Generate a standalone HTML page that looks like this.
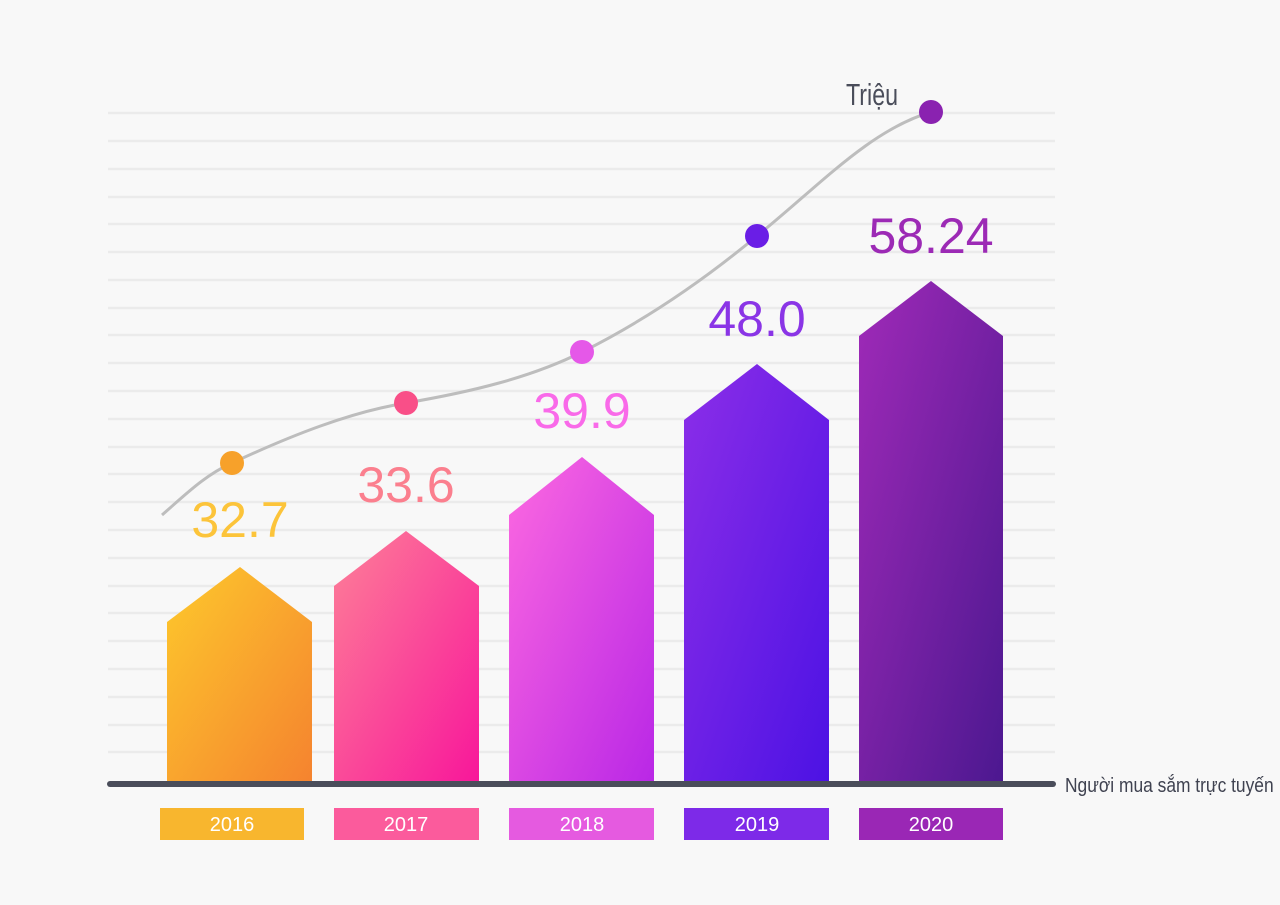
<!DOCTYPE html>
<html><head><meta charset="utf-8"><style>
html,body{margin:0;padding:0;background:#f8f8f8;}
svg{display:block}
</style></head><body>
<svg width="1280" height="905" viewBox="0 0 1280 905" xmlns="http://www.w3.org/2000/svg">
<defs>
<linearGradient id="g1" x1="0" y1="0" x2="1" y2="1"><stop offset="0" stop-color="#fdc92c"/><stop offset="1" stop-color="#f5832f"/></linearGradient>
<linearGradient id="g2" x1="0" y1="0" x2="1" y2="1"><stop offset="0" stop-color="#fd8098"/><stop offset="1" stop-color="#f8179a"/></linearGradient>
<linearGradient id="g3" x1="0" y1="0" x2="1" y2="1"><stop offset="0" stop-color="#fd69e0"/><stop offset="1" stop-color="#b927e6"/></linearGradient>
<linearGradient id="g4" x1="0" y1="0" x2="1" y2="1"><stop offset="0" stop-color="#8c2ee8"/><stop offset="1" stop-color="#4c12e4"/></linearGradient>
<linearGradient id="g5" x1="0" y1="0" x2="1" y2="1"><stop offset="0" stop-color="#a02ab8"/><stop offset="1" stop-color="#4c1890"/></linearGradient>
</defs>
<rect width="1280" height="905" fill="#f8f8f8"/>
<g stroke="#ebebeb" stroke-width="2.5">
<line x1="108" x2="1055" y1="113" y2="113"/><line x1="108" x2="1055" y1="141" y2="141"/><line x1="108" x2="1055" y1="169" y2="169"/><line x1="108" x2="1055" y1="197" y2="197"/><line x1="108" x2="1055" y1="224" y2="224"/><line x1="108" x2="1055" y1="252" y2="252"/><line x1="108" x2="1055" y1="280" y2="280"/><line x1="108" x2="1055" y1="308" y2="308"/><line x1="108" x2="1055" y1="335" y2="335"/><line x1="108" x2="1055" y1="363" y2="363"/><line x1="108" x2="1055" y1="391" y2="391"/><line x1="108" x2="1055" y1="419" y2="419"/><line x1="108" x2="1055" y1="447" y2="447"/><line x1="108" x2="1055" y1="474" y2="474"/><line x1="108" x2="1055" y1="502" y2="502"/><line x1="108" x2="1055" y1="530" y2="530"/><line x1="108" x2="1055" y1="558" y2="558"/><line x1="108" x2="1055" y1="586" y2="586"/><line x1="108" x2="1055" y1="613" y2="613"/><line x1="108" x2="1055" y1="641" y2="641"/><line x1="108" x2="1055" y1="669" y2="669"/><line x1="108" x2="1055" y1="697" y2="697"/><line x1="108" x2="1055" y1="725" y2="725"/><line x1="108" x2="1055" y1="752" y2="752"/>
</g>
<polygon points="167,781 167,622 240,567 312,622 312,781" fill="url(#g1)"/>
<polygon points="334,781 334,586 406,531 479,586 479,781" fill="url(#g2)"/>
<polygon points="509,781 509,515 582,457 654,515 654,781" fill="url(#g3)"/>
<polygon points="684,781 684,420 757,364 829,420 829,781" fill="url(#g4)"/>
<polygon points="859,781 859,336 931,281 1003,336 1003,781" fill="url(#g5)"/>
<line x1="110" y1="784" x2="1053" y2="784" stroke="#4a4d5a" stroke-width="6" stroke-linecap="round"/>
<path d="M162,515 C185,495 205,475 232,463 C290,436 350,412 406,403 C470,392 530,378 582,352 C650,318 710,275 757,236 C820,185 870,130 931,112" fill="none" stroke="#bdbdbd" stroke-width="3"/>
<circle cx="232" cy="463" r="12" fill="#f7a12a"/>
<circle cx="406" cy="403" r="12" fill="#f94f88"/>
<circle cx="582" cy="352" r="12" fill="#e558e8"/>
<circle cx="757" cy="236" r="12" fill="#6a1ee6"/>
<circle cx="931" cy="112" r="12" fill="#8a22b0"/>
<g font-family="Liberation Sans, sans-serif" font-size="50" text-anchor="middle">
<text x="240" y="537" fill="#fcc43a">32.7</text>
<text x="406" y="502" fill="#fb7f8e">33.6</text>
<text x="582" y="428" fill="#f96ae9">39.9</text>
<text x="757" y="336" fill="#8a35e6">48.0</text>
<text x="931" y="253" fill="#9c2ab5">58.24</text>
</g>
<text x="872" y="105" font-family="Liberation Sans, sans-serif" font-size="31" fill="#4a4d5a" text-anchor="middle" transform="translate(872 0) scale(0.75 1) translate(-872 0)">Triệu</text>
<text x="1065" y="792" font-family="Liberation Sans, sans-serif" font-size="20" fill="#3f4250" transform="translate(1065 0) scale(0.87 1) translate(-1065 0)">Người mua sắm trực tuyến</text>
<rect x="160" y="808" width="144" height="32" fill="#f8b62e"/>
<rect x="334" y="808" width="145" height="32" fill="#fb5b9c"/>
<rect x="509" y="808" width="145" height="32" fill="#e55ae0"/>
<rect x="684" y="808" width="145" height="32" fill="#7d2ae8"/>
<rect x="859" y="808" width="144" height="32" fill="#9a27b5"/>
<g font-family="Liberation Sans, sans-serif" font-size="20" fill="#ffffff" text-anchor="middle">
<text x="232" y="831">2016</text>
<text x="406" y="831">2017</text>
<text x="582" y="831">2018</text>
<text x="757" y="831">2019</text>
<text x="931" y="831">2020</text>
</g>
</svg>
</body></html>
